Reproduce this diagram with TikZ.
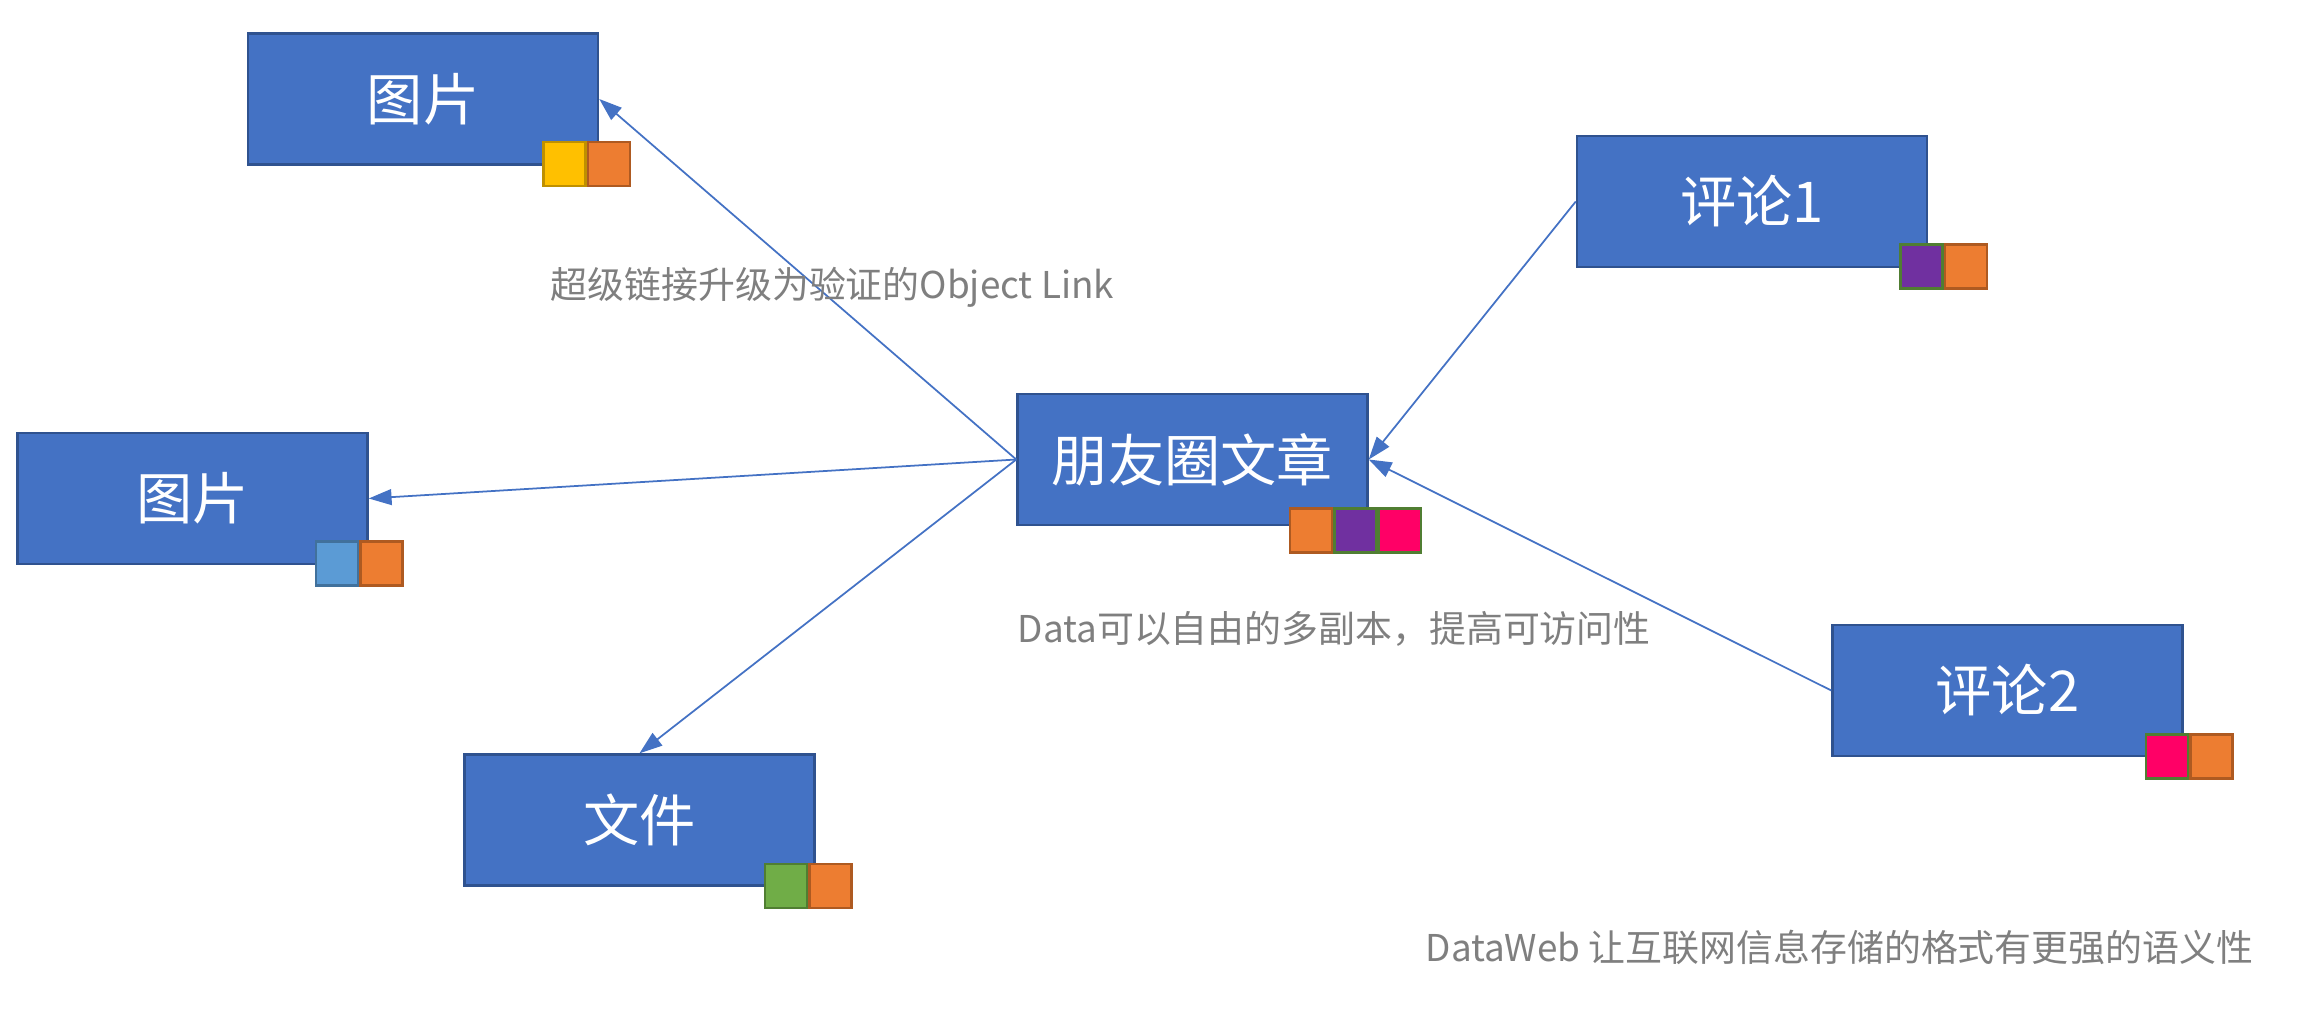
\documentclass[tikz,border=0pt]{standalone}
\usepackage{fontspec}
\setmainfont{Noto Sans CJK SC}
\usepackage{tikz}
\usetikzlibrary{arrows.meta}
\usetikzlibrary{positioning}

\definecolor{boxblue}{HTML}{4472C4}
\definecolor{boxedge}{HTML}{2F528F}
\definecolor{tagyellow}{HTML}{FFC000}
\definecolor{tagyellowedge}{HTML}{BF9000}
\definecolor{tagorange}{HTML}{ED7D31}
\definecolor{tagorangeedge}{HTML}{AE5A21}
\definecolor{taglblue}{HTML}{5B9BD5}
\definecolor{taglblueedge}{HTML}{41719C}
\definecolor{taggreen}{HTML}{70AD47}
\definecolor{taggreenedge}{HTML}{507E32}
\definecolor{tagpurple}{HTML}{7030A0}
\definecolor{tagpink}{HTML}{FF0066}
\definecolor{notegray}{HTML}{7F7F7F}

\tikzset{
itembox/.style={draw=boxedge, line width=0.7pt, fill=boxblue, minimum width=3.5cm,
 minimum height=1.31cm, inner sep=0pt, text=white, font=\fontsize{16}{19}\selectfont},
tagbox/.style={line width=0.7pt, minimum width=0.42cm, minimum height=0.44cm,
 inner sep=0pt, anchor=north west},
tagY/.style={tagbox, fill=tagyellow, draw=tagyellowedge},
tagO/.style={tagbox, fill=tagorange, draw=tagorangeedge},
tagB/.style={tagbox, fill=taglblue, draw=taglblueedge},
tagG/.style={tagbox, fill=taggreen, draw=taggreenedge},
tagP/.style={tagbox, fill=tagpurple, draw=taggreenedge},
tagK/.style={tagbox, fill=tagpink, draw=taggreenedge},
link/.style={draw=boxblue, line width=0.5pt, -{Triangle[length=6.5pt,width=4.5pt]}},
note/.style={text=notegray, font=\fontsize{10.5}{13}\selectfont, anchor=west, inner sep=0pt}
}

\begin{document}
\begin{tikzpicture}
\useasboundingbox (0,0) rectangle (23.15,10.10);

\node[itembox] (pic1) at (4.23,9.11) {图片};
\node[itembox] (pic2) at (1.925,5.115) {图片};
\node[itembox] (file) at (6.395,1.90) {文件};
\node[itembox] (post) at (11.925,5.505) {朋友圈文章};
\node[itembox] (cmt1) at (17.52,8.085) {评论1};
\node[itembox] (cmt2) at (20.075,3.195) {评论2};

\draw[link] (post.west) -- (pic1.east);
\draw[link] (post.west) -- (pic2.east);
\draw[link] (post.west) -- (file.north);
\draw[link] (cmt1.west) -- (post.east);
\draw[link] (cmt2.west) -- (post.east);

\node[tagY] (pic1-a) at ([xshift=-0.57cm,yshift=0.25cm]pic1.south east) {};
\node[tagO, right=0pt of pic1-a] (pic1-b) {};

\node[tagB] (pic2-a) at ([xshift=-0.54cm,yshift=0.25cm]pic2.south east) {};
\node[tagO, right=0pt of pic2-a] (pic2-b) {};

\node[tagG] (file-a) at ([xshift=-0.52cm,yshift=0.24cm]file.south east) {};
\node[tagO, right=0pt of file-a] (file-b) {};

\node[tagO] (post-a) at ([xshift=-0.80cm,yshift=0.19cm]post.south east) {};
\node[tagP, right=0pt of post-a] (post-b) {};
\node[tagK, right=0pt of post-b] (post-c) {};

\node[tagP] (cmt1-a) at ([xshift=-0.29cm,yshift=0.25cm]cmt1.south east) {};
\node[tagO, right=0pt of cmt1-a] (cmt1-b) {};

\node[tagK] (cmt2-a) at ([xshift=-0.39cm,yshift=0.24cm]cmt2.south east) {};
\node[tagO, right=0pt of cmt2-a] (cmt2-b) {};

\node[note] (note1) at (5.50,7.23) {超级链接升级为验证的Object Link};
\node[note] (note2) at (10.17,3.81) {Data可以自由的多副本，提高可访问性};
\node[note] (note3) at (14.25,0.63) {DataWeb 让互联网信息存储的格式有更强的语义性};
\end{tikzpicture}
\end{document}
